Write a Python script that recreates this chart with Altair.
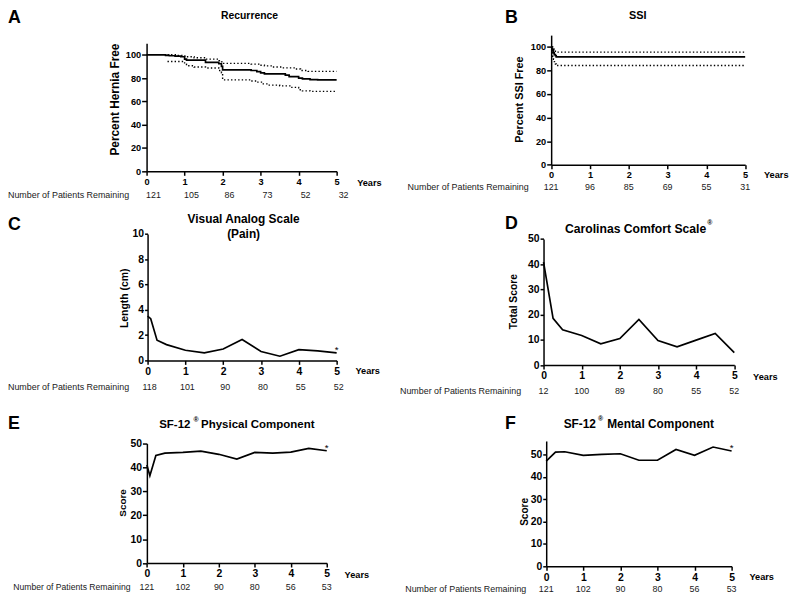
import altair as alt
import pandas as pd

FONT = "Liberation Sans"
W, H = 792, 588
YEARS = [0, 1, 2, 3, 4, 5]

# ---------------- data ----------------
# A: Recurrence (Kaplan-Meier, percent hernia free)
A_T = [0, 0.5, 0.6, 0.75, 0.9, 1.0, 1.05, 1.55, 1.9, 1.97, 2.0, 2.75, 2.9, 3.0, 3.1, 3.65, 3.75, 4.0, 4.1, 4.3, 4.5, 5.0]
A_S = [100, 99.5, 99.2, 98.8, 98.3, 96.3, 95.5, 93.5, 92.3, 90, 87, 86.5, 85.5, 84.5, 83.6, 82.5, 81.3, 80, 79.3, 78.7, 78.5, 78.5]
A_UP_T = [0.55, 0.8, 1.0, 1.05, 1.25, 1.55, 1.9, 1.97, 2.0, 2.75, 2.95, 3.1, 3.3, 3.6, 3.9, 4.05, 4.25, 5.0]
A_UP = [100, 99.5, 99, 98.3, 97.5, 96.3, 95, 94, 92.6, 92, 91, 90.5, 89.5, 88.8, 87.8, 86.5, 85.8, 85.8]
A_LO_T = [0.55, 1.0, 1.05, 1.25, 1.55, 1.9, 1.97, 2.0, 2.75, 2.9, 3.05, 3.2, 3.5, 3.8, 4.0, 4.1, 4.3, 5.0]
A_LO = [94.3, 92, 90.6, 89.5, 88.7, 86.5, 84.5, 78.5, 77.5, 76.5, 75, 74, 73.3, 72, 70, 69, 68.6, 68.6]
A_N = [121, 105, 86, 73, 52, 32]

# B: SSI (Kaplan-Meier, percent SSI free)
B_T = [0, 0.02, 0.04, 0.06, 0.08, 0.11, 0.13, 5.0]
B_S = [100, 98.3, 96.7, 95, 93.5, 92.5, 91.6, 91.6]
B_UP_T = [0.02, 0.04, 0.06, 0.08, 0.11, 0.13, 5.0]
B_UP = [100, 99, 98, 97, 96.2, 95.6, 95.6]
B_LO_T = [0.02, 0.04, 0.06, 0.08, 0.11, 0.13, 5.0]
B_LO = [95, 92, 89.5, 87.5, 85.5, 84.2, 84.2]
B_N = [121, 96, 85, 69, 55, 31]

# C: Visual Analog Scale (pain)
C_T = [0, 0.083, 0.25, 0.5, 1, 1.5, 2, 2.5, 3, 3.5, 4, 4.5, 5]
C_V = [3.5, 3.3, 1.6, 1.25, 0.8, 0.6, 0.9, 1.65, 0.7, 0.33, 0.85, 0.75, 0.6]
C_N = [118, 101, 90, 80, 55, 52]

# D: Carolinas Comfort Scale
D_T = [0, 0.25, 0.5, 1, 1.5, 2, 2.5, 3, 3.5, 4, 4.5, 5]
D_V = [40.8, 18.5, 14, 11.7, 8.4, 10.5, 18.1, 9.7, 7.2, 9.9, 12.5, 4.9]
D_N = [12, 100, 89, 80, 55, 52]

# E: SF-12 Physical Component
E_T = [0, 0.083, 0.25, 0.5, 1, 1.5, 2, 2.5, 3, 3.5, 4, 4.5, 5]
E_V = [41, 36.5, 45, 46, 46.3, 46.8, 45.5, 43.5, 46.3, 46, 46.4, 48, 47]
E_N = [121, 102, 90, 80, 56, 53]

# F: SF-12 Mental Component
F_T = [0, 0.25, 0.5, 1, 1.5, 2, 2.5, 3, 3.5, 4, 4.5, 5]
F_V = [47, 51, 51.2, 49.6, 50, 50.3, 47.4, 47.4, 52.2, 49.6, 53.3, 51.5]
F_N = [121, 102, 90, 80, 56, 53]

ROW_LABEL = "Number of Patients Remaining"

ONE = pd.DataFrame({"k": [0]})


def txt(s, x, y, size, weight="bold", align="left", angle=0, color="black"):
    props = dict(font=FONT, fontSize=size, fontWeight=weight, align=align,
                 baseline="middle", color=color)
    if angle:
        props["angle"] = angle
    return alt.Chart(ONE).mark_text(**props).encode(
        x=alt.value(x), y=alt.value(y), text=alt.value(s))


def axis_style(label_size, tick, pad):
    return dict(domainColor="black", domainWidth=1.5, tickColor="black", tickWidth=1.5,
                tickSize=tick, labelFont=FONT, labelFontWeight="bold", labelFontSize=label_size,
                labelColor="black", labelPadding=pad, labelFlush=False, grid=False, title="")


def panel(xr, yr, ydom, yvals, series, counts, cdx, cdy, lab_size,
          years_dx, years_dy, ytick=5, star=None):
    xs = alt.Scale(domain=[0, 5], range=xr, nice=False, zero=False)
    ys = alt.Scale(domain=ydom, range=yr, nice=False, zero=False)
    xaxis = alt.Axis(orient="bottom", offset=yr[0] - H, values=YEARS, format="d",
                     **axis_style(lab_size, 4, 2))
    yaxis = alt.Axis(orient="left", offset=-xr[0], values=yvals, format="d",
                     **axis_style(lab_size, ytick, 1))
    layers = []
    for i, (ts, vs, dashed, step) in enumerate(series):
        df = pd.DataFrame({"t": ts, "v": vs})
        mk = dict(color="black", strokeWidth=1.4 if dashed else 1.7)
        if dashed:
            mk["strokeDash"] = [1.4, 2.2]
        if step:
            mk["interpolate"] = "step-after"
        layers.append(alt.Chart(df).mark_line(**mk).encode(
            x=alt.X("t:Q", scale=xs, axis=xaxis if i == 0 else None),
            y=alt.Y("v:Q", scale=ys, axis=yaxis if i == 0 else None)))
    cdf = pd.DataFrame({"t": YEARS, "v": [ydom[0]] * 6, "n": counts})
    layers.append(alt.Chart(cdf).mark_text(font=FONT, fontSize=9, color="#1a1a1a",
                                           dx=cdx, dy=cdy).encode(
        x=alt.X("t:Q", scale=xs, axis=None), y=alt.Y("v:Q", scale=ys, axis=None),
        text="n:Q"))
    ydf = pd.DataFrame({"t": [5], "v": [ydom[0]], "s": ["Years"]})
    layers.append(alt.Chart(ydf).mark_text(font=FONT, fontSize=9.3, fontWeight="bold",
                                           align="left", color="black",
                                           dx=years_dx, dy=years_dy).encode(
        x=alt.X("t:Q", scale=xs, axis=None), y=alt.Y("v:Q", scale=ys, axis=None),
        text="s:N"))
    if star is not None:
        sdf = pd.DataFrame({"t": [5], "v": [star], "s": ["*"]})
        layers.append(alt.Chart(sdf).mark_text(font=FONT, fontSize=10, color="black").encode(
            x=alt.X("t:Q", scale=xs, axis=None), y=alt.Y("v:Q", scale=ys, axis=None),
            text="s:N"))
    return layers


pA = panel([140, 332], [162, 32.5], [0, 110], [0, 20, 40, 60, 80, 100],
           [(A_T, A_S, False, True), (A_UP_T, A_UP, True, True), (A_LO_T, A_LO, True, True)],
           A_N, 7, 24, 9.3, 20.7, 12, ytick=5)
pB = panel([548.7, 744.7], [155.3, 24.4], [0, 110], [0, 20, 40, 60, 80, 100],
           [(B_T, B_S, False, True), (B_UP_T, B_UP, True, True), (B_LO_T, B_LO, True, True)],
           B_N, 0, 22.4, 9.3, 19, 10.7, ytick=4.5)
pC = panel([141, 332], [353, 225.3], [0, 10], [0, 2, 4, 6, 8, 10],
           [(C_T, C_V, False, False)], C_N, 2, 27, 10.5, 19, 11, ytick=3, star=0.8)
pD = panel([541, 733.7], [357.7, 230.3], [0, 50], [0, 10, 20, 30, 40, 50],
           [(D_T, D_V, False, False)], D_N, 0, 26.6, 10.5, 19, 11.6, ytick=3.5)
pE = panel([140.3, 322], [557.7, 437], [0, 50], [0, 10, 20, 30, 40, 50],
           [(E_T, E_V, False, False)], E_N, 0, 24.3, 10.5, 18, 12.6, ytick=4.5, star=48.1)
pF = panel([543.7, 731], [561, 434.4], [0, 56], [0, 10, 20, 30, 40, 50],
           [(F_T, F_V, False, False)], F_N, 0, 22.7, 10.5, 18, 11, ytick=3.5, star=52.7)

texts = [
    # panel letters
    txt("A", 0, 7, 18), txt("B", 502, 7, 18), txt("C", 0, 216, 18),
    txt("D", 502, 215.5, 18), txt("E", 0, 417, 18), txt("F", 502, 417, 18),
    # titles
    txt("Recurrence", 244, 5, 10.5, align="center"),
    txt("SSI", 636.3, 5, 11, align="center"),
    txt("Visual Analog Scale", 238, 210.6, 12, align="center"),
    txt("(Pain)", 238, 225.5, 12, align="center"),
    txt("Carolinas Comfort Scale", 562.7, 220.6, 12.3),
    txt("®", 706.3, 214.5, 7),
    txt("SF-12", 152.7, 418.6, 11.6),
    txt("®", 187.5, 413, 7),
    txt("Physical Component", 195, 418.6, 11.6),
    txt("SF-12", 561.3, 417.6, 12),
    txt("®", 596, 412, 7),
    txt("Mental Component", 605.3, 417.6, 12),
    # axis titles
    txt("Percent Hernia Free", 108, 89.5, 12, align="center", angle=270),
    txt("Percent SSI Free", 517, 89.5, 11, align="center", angle=270),
    txt("Length (cm)", 118.7, 290.3, 10.5, align="center", angle=270),
    txt("Total Score", 511.5, 293.7, 10.4, align="center", angle=270),
    txt("Score", 116.5, 497, 10, align="center", angle=270),
    txt("Score", 522.5, 506, 10.2, align="center", angle=270),
    # at-risk row labels
    txt(ROW_LABEL, 0, 186, 9, weight="normal", color="#1a1a1a"),
    txt(ROW_LABEL, 403.7, 177.7, 9, weight="normal", color="#1a1a1a"),
    txt(ROW_LABEL, 0, 380, 9, weight="normal", color="#1a1a1a"),
    txt(ROW_LABEL, 396, 384.3, 9, weight="normal", color="#1a1a1a"),
    txt(ROW_LABEL, 5.3, 582, 8.7, weight="normal", color="#1a1a1a"),
    txt(ROW_LABEL, 401.3, 583.7, 9, weight="normal", color="#1a1a1a"),
]

chart = alt.layer(*(pA + pB + pC + pD + pE + pF), *texts).resolve_scale(
    x="independent", y="independent"
).resolve_axis(
    x="independent", y="independent"
).properties(
    width=W, height=H, padding=0, autosize=alt.AutoSizeParams(type="none"),
    background="white"
).configure_view(strokeWidth=0)

chart.save("out.html", embed_options={"renderer": "svg", "actions": False})
